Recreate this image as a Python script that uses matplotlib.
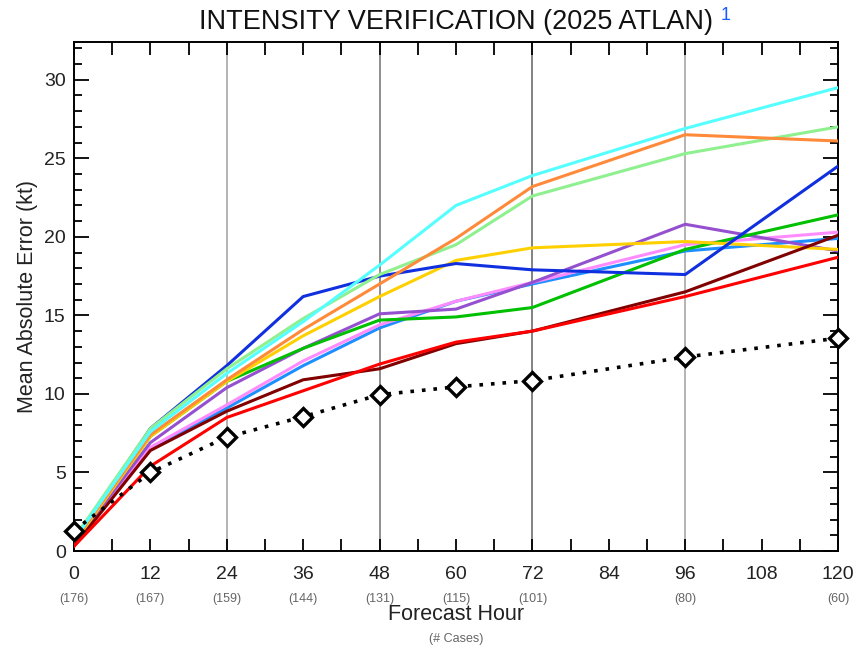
import matplotlib.pyplot as plt
from matplotlib.ticker import MultipleLocator
import matplotlib.transforms as mtransforms

plt.rcParams['font.family'] = ['Liberation Sans', 'DejaVu Sans']

HOURS = [0, 12, 24, 36, 48, 60, 72, 96, 120]
CASES = ['(176)', '(167)', '(159)', '(144)', '(131)', '(115)', '(101)', '(80)', '(60)']

# model errors (kt), one list per model line
CYAN = [0.7, 7.6, 11.3, 14.6, 18.2, 22.0, 23.9, 26.9, 29.5]
ORANGE = [0.6, 7.4, 10.9, 14.1, 17.0, 19.9, 23.2, 26.5, 26.1]
LTGREEN = [0.8, 7.8, 11.6, 14.8, 17.6, 19.5, 22.6, 25.3, 27.0]
BLUE = [0.6, 7.8, 11.8, 16.2, 17.5, 18.3, 17.9, 17.6, 24.5]
YELLOW = [0.5, 7.3, 10.8, 13.7, 16.2, 18.5, 19.3, 19.7, 19.2]
GREEN = [0.6, 7.3, 10.8, 12.9, 14.7, 14.9, 15.5, 19.2, 21.4]
PURPLE = [0.5, 6.9, 10.4, 12.9, 15.1, 15.4, 17.1, 20.8, 19.1]
PINK = [0.5, 6.6, 9.3, 12.1, 14.4, 15.9, 17.1, 19.5, 20.3]
SKYBLUE = [0.6, 6.5, 9.1, 11.8, 14.2, 15.9, 17.0, 19.1, 19.9]
DARKRED = [0.3, 6.4, 8.9, 10.9, 11.6, 13.2, 14.0, 16.5, 20.1]
RED = [0.3, 5.4, 8.5, 10.2, 11.9, 13.3, 14.0, 16.2, 18.7]
OCD5 = [1.3, 5.0, 7.25, 8.55, 9.95, 10.45, 10.85, 12.35, 13.55]

SERIES = [
    (SKYBLUE, '#1e8fff'),
    (PINK, '#ff8cff'),
    (PURPLE, '#9550d0'),
    (GREEN, '#00c000'),
    (YELLOW, '#ffd000'),
    (BLUE, '#1030e0'),
    (LTGREEN, '#8ff08f'),
    (ORANGE, '#ff8a3a'),
    (CYAN, '#55ffff'),
    (DARKRED, '#800000'),
    (RED, '#ff0000'),
]

fig = plt.figure(figsize=(8.59, 6.57), dpi=100)
ax = fig.add_axes([0.0861, 0.1613, 0.8895, 0.7747])

for x, c in [(24, '#a0a0a0'), (48, '#707070'), (72, '#606060'), (96, '#a0a0a0')]:
    ax.axvline(x, color=c, linewidth=1.1, zorder=1)

for values, color in SERIES:
    ax.plot(HOURS, values, color=color, linewidth=2.2, zorder=3)

ax.plot(HOURS, OCD5, color='black', linestyle=(0, (1, 2.2)), linewidth=2.6,
        marker='D', markersize=9, markerfacecolor='white', markeredgecolor='black',
        markeredgewidth=2.4, zorder=5, clip_on=False)

ax.set_xlim(0, 120)
ax.set_ylim(0, 32.4)
ax.xaxis.set_major_locator(MultipleLocator(12))
ax.xaxis.set_minor_locator(MultipleLocator(6))
ax.yaxis.set_major_locator(MultipleLocator(5))
ax.yaxis.set_minor_locator(MultipleLocator(1))
ax.tick_params(which='both', direction='in', top=True, right=True, width=1.3, colors='black',
               labelcolor='#222222')
ax.tick_params(axis='y', which='major', length=11, labelsize=14, pad=6)
ax.tick_params(axis='y', which='minor', length=6)
ax.tick_params(axis='x', which='both', length=9)
ax.tick_params(axis='x', which='major', labelsize=14, pad=11)
for s in ax.spines.values():
    s.set_linewidth(1.4)

trans = mtransforms.blended_transform_factory(ax.transData, fig.transFigure)
for h, n in zip(HOURS, CASES):
    ax.text(h, 1 - 599 / 657, n, transform=trans, ha='center', va='center',
            fontsize=9, color='#666666')

ax.set_ylabel('Mean Absolute Error (kt)', fontsize=15.5, labelpad=4, color='#222222')
fig.text(0.531, 1 - 614 / 657, 'Forecast Hour', ha='center', va='center', fontsize=15.5, color='#222222')
fig.text(0.531, 1 - 639 / 657, '(# Cases)', ha='center', va='center', fontsize=9, color='#666666')

fig.text(0.531, 1 - 22 / 657, 'INTENSITY VERIFICATION (2025 ATLAN)', ha='center', va='center',
         fontsize=19.5, color='#111111')
fig.text(0.839, 1 - 15 / 657, '1', ha='left', va='center', fontsize=13, color='#1a5cff')

fig.savefig('out.png', dpi=100)
